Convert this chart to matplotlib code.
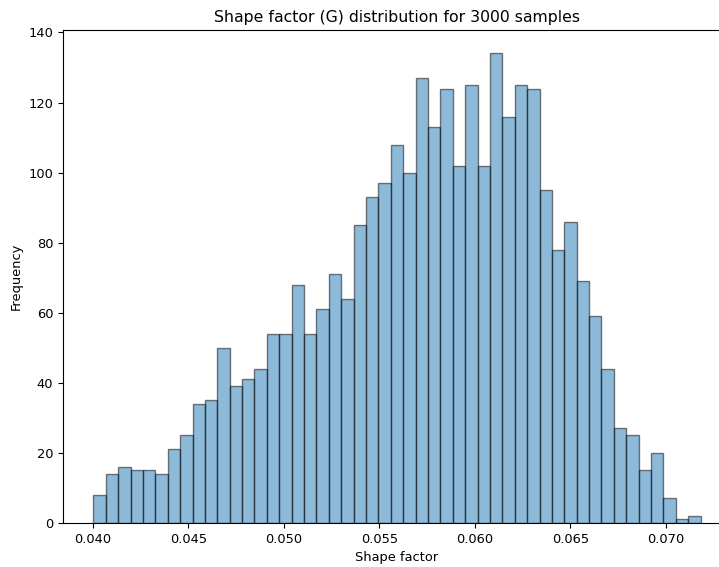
import matplotlib.pyplot as plt
import numpy as np

# histogram counts per bin (49 bins, 3000 samples total)
counts = [8, 14, 16, 15, 15, 14, 21, 25, 34, 35,
          50, 39, 41, 44, 54, 54, 68, 54, 61, 71,
          64, 85, 93, 97, 108, 100, 127, 113, 124, 102,
          125, 102, 134, 116, 125, 124, 95, 78, 86, 69,
          59, 44, 27, 25, 15, 20, 7, 1, 2]
g_min = 0.04003
g_max = 0.07182
n_samples = 3000

edges = np.linspace(g_min, g_max, len(counts) + 1)

plt.rcParams['font.size'] = 9.4

fig = plt.figure(figsize=(7.19, 5.67), dpi=100)
ax = fig.add_axes([63 / 719, 44 / 567, 668 / 719, 493 / 567])
ax.hist(edges[:-1], bins=edges, weights=counts, alpha=0.5, edgecolor='black')
ax.set_title(f'Shape factor (G) distribution for {n_samples} samples', fontsize=11.3)
ax.set_xlabel('Shape factor')
ax.set_ylabel('Frequency')

fig.savefig('out.png', dpi=100)
